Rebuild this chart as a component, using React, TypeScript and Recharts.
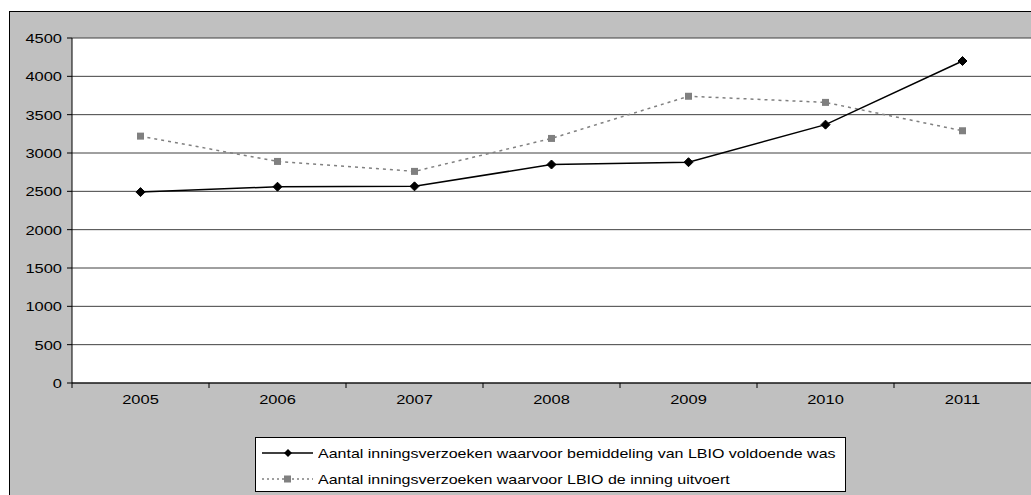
import React from "react";
import { LineChart, Line, XAxis, YAxis, CartesianGrid, Legend } from "recharts";

const years = ["2005", "2006", "2007", "2008", "2009", "2010", "2011"];
const bemiddeling = [2490, 2560, 2565, 2850, 2880, 3370, 4200];
const inning = [3220, 2890, 2760, 3190, 3740, 3660, 3290];
const yTicks = [0, 500, 1000, 1500, 2000, 2500, 3000, 3500, 4000, 4500];
const seriesNames = [
  "Aantal inningsverzoeken waarvoor bemiddeling van LBIO voldoende was",
  "Aantal inningsverzoeken waarvoor LBIO de inning uitvoert",
];

const data = years.map((y, i) => ({ year: y, a: bemiddeling[i], b: inning[i] }));

const W = 1031;
const H = 495;
const Y_AXIS_W = 72;
const BAND = (W - Y_AXIS_W) / years.length;
const FONT = "'Liberation Sans', Arial, sans-serif";
const FS = 13.5;
const SX = 1.22;
const LSX = 1.185;

const Diamond = (props: any) => {
  const { cx, cy } = props;
  if (cx == null || cy == null) return null;
  const r = 4.5;
  return (
    <polygon
      points={`${cx},${cy - r} ${cx + r},${cy} ${cx},${cy + r} ${cx - r},${cy}`}
      fill="#000"
      stroke="#000"
    />
  );
};

const Square = (props: any) => {
  const { cx, cy } = props;
  if (cx == null || cy == null) return null;
  return <rect x={cx - 3.5} y={cy - 3.5} width={7} height={7} fill="#808080" />;
};

const XTick = (props: any) => {
  const { x, y, payload } = props;
  const bx = x - BAND / 2;
  return (
    <g>
      <line x1={bx} x2={bx} y1={y - 7} y2={y - 2} stroke="#000" />
      <text
        transform={`translate(${x},${y + 14}) scale(${SX},1)`}
        x={0}
        y={0}
        textAnchor="middle"
        fontSize={FS}
        fontFamily={FONT}
        fill="#000"
      >
        {payload.value}
      </text>
    </g>
  );
};

const YTick = (props: any) => {
  const { x, y, payload } = props;
  return (
    <text
      transform={`translate(${x},${y + 5}) scale(${SX},1)`}
      x={0}
      y={0}
      textAnchor="end"
      fontSize={FS}
      fontFamily={FONT}
      fill="#000"
    >
      {payload.value}
    </text>
  );
};

const LegendBox = () => (
  <div
    style={{
      width: 591,
      height: 55,
      border: "1px solid #000",
      background: "#fff",
      boxSizing: "border-box",
      fontFamily: FONT,
      fontSize: FS,
      color: "#000",
    }}
  >
    {seriesNames.map((n, i) => (
      <div key={n} style={{ display: "flex", alignItems: "center", height: 26, marginTop: i === 0 ? 2 : 0 }}>
        <svg width={60} height={14} style={{ flex: "none" }}>
          {i === 0 ? (
            <>
              <line x1={6} x2={57} y1={7} y2={7} stroke="#000" strokeWidth={1.3} />
              <polygon points="32,3 36,7 32,11 28,7" fill="#000" />
            </>
          ) : (
            <>
              <line x1={6} x2={57} y1={7} y2={7} stroke="#808080" strokeWidth={1.3} strokeDasharray="2 3" />
              <rect x={28} y={3.5} width={7} height={7} fill="#808080" />
            </>
          )}
        </svg>
        <span
          style={{
            marginLeft: 2,
            whiteSpace: "nowrap",
            display: "inline-block",
            transform: `scaleX(${LSX})`,
            transformOrigin: "left center",
          }}
        >
          {n}
        </span>
      </div>
    ))}
  </div>
);

export default function App() {
  return (
    <div style={{ position: "absolute", left: 0, top: 0, width: W, height: H, overflow: "hidden" }}>
      <div
        style={{
          position: "absolute",
          left: 9,
          top: 11,
          width: 1060,
          height: 520,
          background: "#C0C0C0",
          border: "1px solid #000",
        }}
      />
      <div style={{ position: "absolute", left: 0, top: 0 }}>
        <LineChart width={W} height={H} data={data} margin={{ top: 38, right: 0, left: 0, bottom: 82 }}>
          <CartesianGrid vertical={false} stroke="#404040" fill="#fff" fillOpacity={1} />
          <XAxis
            dataKey="year"
            scale="band"
            height={30}
            stroke="#000"
            tickLine={false}
            tickSize={5}
            tickMargin={2}
            tick={<XTick />}
            interval={0}
          />
          <YAxis
            width={Y_AXIS_W}
            domain={[0, 4500]}
            ticks={yTicks}
            interval={0}
            stroke="#000"
            tickSize={5}
            tickMargin={5}
            tick={<YTick />}
          />
          <Legend
            layout="horizontal"
            verticalAlign="middle"
            align="center"
            wrapperStyle={{ left: 255, top: 437, width: 591, height: 55 }}
            content={() => <LegendBox />}
          />
          <Line
            dataKey="b"
            name={seriesNames[1]}
            stroke="#808080"
            strokeWidth={1.5}
            strokeDasharray="3 4"
            dot={<Square />}
            activeDot={false}
            isAnimationActive={false}
          />
          <Line
            dataKey="a"
            name={seriesNames[0]}
            stroke="#000"
            strokeWidth={1.5}
            dot={<Diamond />}
            activeDot={false}
            isAnimationActive={false}
          />
        </LineChart>
      </div>
    </div>
  );
}
